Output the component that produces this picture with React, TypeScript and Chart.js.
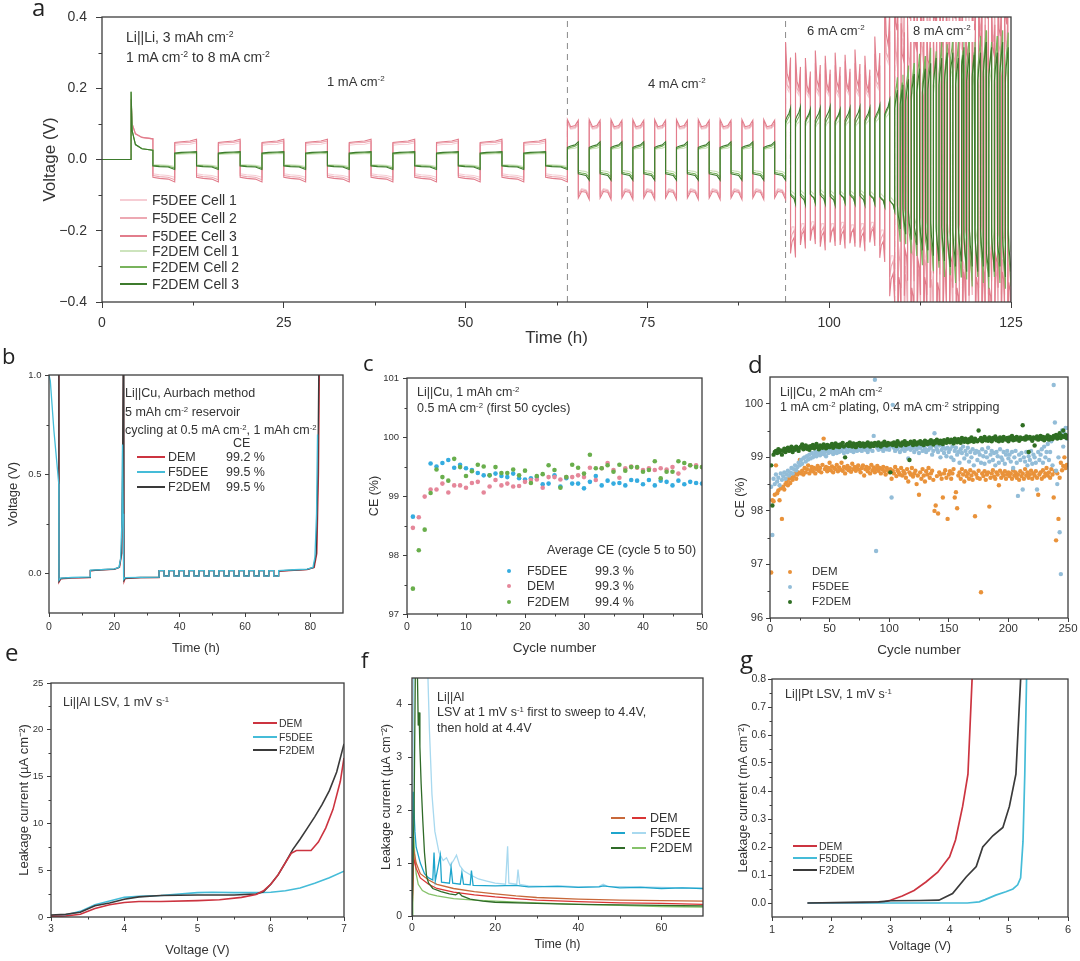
import React, { useEffect, useRef } from "react";
import { Chart, registerables } from "chart.js";

Chart.register(...registerables);

const FONT = '"Liberation Sans", Arimo, Arial, Helvetica, sans-serif';
const LETTER_FONT = '"Open Sans", "Noto Sans", sans-serif';
const INK = "#333333";
const FRAME = "#3d3d3d";

/* ================= panel a : Li||Li rate test ================= */
const aStepStart = [4, 64, 94, 109]; // h, start of 1, 4, 6, 8 mA cm-2 steps
const aStepEnd = [64, 94, 109, 125];
const aCyclesF5DEE = [10, 10, 11, 18];
const aCyclesF2DEM = [10, 10, 11, 21];
const aHalfFrac = [0, 0.3, 0.7, 1]; // sample positions inside each half-cycle
const aDashedTimes = [64, 94, 109];
const aSpikeF5DEE = [[4, 0.17], [4.15, 0.1], [4.6, 0.072], [5.5, 0.062], [7, 0.058]];
const aSpikeF2DEM = [[4, 0.19], [4.15, 0.08], [4.6, 0.042], [5.5, 0.03], [7, 0.026]];
// per step: [plating half [start, 30%, 70%, end], stripping half [...]] (V)
const aF5DEE1 = [
  [[0.04, 0.042, 0.043, 0.047], [-0.04, -0.043, -0.045, -0.05]],
  [[0.1, 0.085, 0.087, 0.098], [-0.095, -0.082, -0.085, -0.1]],
  [[0.25, 0.19, 0.18, 0.22], [-0.2, -0.18, -0.18, -0.21]],
  [[0.38, 0.3, 0.28, 0.36], [-0.38, -0.26, -0.28, -0.36]],
];
const aF5DEE2 = [
  [[0.045, 0.047, 0.048, 0.052], [-0.045, -0.048, -0.05, -0.057]],
  [[0.105, 0.088, 0.09, 0.102], [-0.1, -0.085, -0.088, -0.104]],
  [[0.27, 0.2, 0.19, 0.24], [-0.22, -0.2, -0.19, -0.23]],
  [[0.42, 0.32, 0.3, 0.4], [-0.42, -0.28, -0.3, -0.38]],
];
const aF5DEE3 = [
  [[0.048, 0.05, 0.052, 0.057], [-0.05, -0.053, -0.055, -0.063]],
  [[0.112, 0.092, 0.095, 0.11], [-0.108, -0.09, -0.092, -0.112]],
  [[0.3, 0.22, 0.2, 0.26], [-0.24, -0.21, -0.2, -0.25]],
  [[0.45, 0.35, 0.33, 0.42], [-0.45, -0.3, -0.32, -0.4]],
];
const aF2DEM1 = [
  [[0.014, 0.015, 0.016, 0.017], [-0.014, -0.015, -0.016, -0.02]],
  [[0.028, 0.03, 0.032, 0.036], [-0.03, -0.032, -0.034, -0.04]],
  [[0.09, 0.1, 0.105, 0.115], [-0.085, -0.09, -0.095, -0.1]],
  [[0.2, 0.22, 0.24, 0.26], [-0.18, -0.2, -0.22, -0.24]],
];
const aF2DEM2 = [
  [[0.016, 0.018, 0.019, 0.02], [-0.016, -0.018, -0.019, -0.024]],
  [[0.03, 0.034, 0.037, 0.044], [-0.036, -0.038, -0.04, -0.05]],
  [[0.1, 0.11, 0.12, 0.135], [-0.095, -0.1, -0.105, -0.12]],
  [[0.24, 0.27, 0.3, 0.33], [-0.22, -0.26, -0.29, -0.33]],
];
const aF2DEM3 = [
  [[0.018, 0.02, 0.021, 0.022], [-0.018, -0.02, -0.021, -0.028]],
  [[0.034, 0.038, 0.041, 0.05], [-0.04, -0.042, -0.045, -0.058]],
  [[0.11, 0.12, 0.13, 0.145], [-0.1, -0.105, -0.11, -0.125]],
  [[0.22, 0.25, 0.28, 0.3], [-0.2, -0.24, -0.27, -0.3]],
];
// cycle-by-cycle amplitude factors read for the 6 and 8 mA cm-2 steps
const aScaleF5DEE3_6 = [1.1, 1.0, 0.95, 1.02, 0.97, 1.0, 0.98, 1.03, 0.97, 1.15, 1.6];
const aScaleF5DEE3_8 = [1.1, 0.85, 1.2, 0.95, 1.1, 0.8, 1.15, 1.0, 0.9, 1.2, 1.05, 0.85, 1.1, 1.0, 1.2, 0.9, 1.05, 1.15];
const aScaleF5DEE2_6 = [1.05, 1.0, 0.97, 1.0, 1.0, 0.98, 1.02, 1.0, 0.98, 1.1, 1.5];
const aScaleF5DEE2_8 = [0.95, 1.15, 0.9, 1.1, 1.0, 1.2, 0.85, 1.05, 1.15, 0.9, 1.1, 1.0, 0.95, 1.2, 0.9, 1.1, 1.0, 1.05];
const aScaleF2DEM3_6 = [1.0, 1.02, 0.98, 1.0, 1.03, 0.97, 1.0, 1.02, 1.0, 1.05, 1.15];
const aScaleF2DEM3_8 = [0.65, 0.7, 0.75, 0.8, 0.85, 0.85, 0.9, 0.95, 0.95, 1.0, 1.0, 0.95, 1.05, 1.0, 1.05, 1.0, 1.1, 1.05, 1.0, 1.1, 1.05];
const aScaleF2DEM2_6 = [1.0, 1.0, 1.02, 0.98, 1.0, 1.02, 1.0, 0.98, 1.02, 1.08, 1.2];
const aScaleF2DEM2_8 = [0.7, 0.72, 0.8, 0.82, 0.9, 0.88, 0.95, 0.92, 1.0, 0.98, 1.05, 1.0, 1.02, 1.08, 1.0, 1.05, 1.1, 1.0, 1.05, 1.1, 1.08];
const aTicksX = [0, 25, 50, 75, 100, 125];
const aMinorX = [12.5, 37.5, 62.5, 87.5, 112.5];
const aTicksY = [-0.4, -0.2, 0, 0.2, 0.4];
const aMinorY = [-0.3, -0.1, 0.1, 0.3];

/* ================= panel b : Aurbach ================= */
const bF5DEE = [[0, 1.0], [0.4, 0.97], [1.5, 0.72], [3, 0.45], [3.05, -0.035], [3.6, -0.024], [7, -0.021], [12.6, -0.018], [12.65, 0.016], [16, 0.019], [20, 0.022], [21.4, 0.03], [21.9, 0.07], [22.3, 0.25], [22.5, 0.65], [22.7, 0.3], [22.85, -0.03], [23.3, -0.022], [28, -0.02], [33.7, -0.019]];
const bF5DEEEnd = [[70.3, 0.014], [75, 0.018], [79, 0.021], [80.8, 0.03], [81.4, 0.08], [81.9, 0.3], [82.2, 0.7]];
const bF2DEM = [[3, 1.05], [3.05, -0.04], [3.6, -0.026], [7, -0.022], [12.6, -0.02], [12.65, 0.014], [16, 0.018], [20, 0.021], [21.5, 0.03], [22.2, 0.1], [22.5, 0.5], [22.7, 1.05], [22.9, 1.05], [22.95, -0.035], [23.3, -0.024], [28, -0.021], [33.7, -0.02]];
const bF2DEMEnd = [[70.3, 0.012], [75, 0.016], [79, 0.02], [81, 0.03], [81.8, 0.1], [82.3, 0.5], [82.6, 1.05]];
const bDEM = [[3, 1.05], [3.05, -0.045], [3.6, -0.028], [7, -0.024], [12.6, -0.022], [12.65, 0.012], [16, 0.017], [20, 0.02], [21.6, 0.03], [22.3, 0.1], [22.6, 0.5], [22.8, 1.05], [22.95, 1.05], [23.0, -0.04], [23.3, -0.026], [28, -0.022], [33.7, -0.021]];
const bDEMEnd = [[70.3, 0.01], [75, 0.015], [79, 0.019], [81.2, 0.03], [82, 0.1], [82.5, 0.5], [82.8, 1.05]];
const bSquareEdges = [33.7, 35.2, 36.7, 38.3, 39.8, 41.3, 42.9, 44.4, 45.9, 47.5, 49.0, 50.5, 52.0, 53.6, 55.1, 56.6, 58.2, 59.7, 61.2, 62.8, 64.3, 65.8, 67.3, 68.8, 70.3];
const bSquareLevels = [0.014, -0.014, 0.014, -0.014, 0.014, -0.014, 0.014, -0.014, 0.014, -0.014, 0.014, -0.014, 0.014, -0.014, 0.014, -0.014, 0.014, -0.014, 0.014, -0.014, 0.014, -0.014, 0.014, -0.014];
const bTicksX = [0, 20, 40, 60, 80];
const bMinorX = [10, 30, 50, 70];
const bTicksY = [0, 0.5, 1];
const bMinorY = [0.25, 0.75];

/* ================= panel c : CE first 50 cycles ================= */
const cF5DEE = [98.65, null, null, 99.55, 99.5, 99.56, 99.61, 99.48, 99.53, 99.47, 99.44, 99.39, 99.35, 99.35, 99.38, 99.34, 99.32, 99.38, 99.3, 99.28, 99.3, 99.32, 99.2, 99.21, 99.35, 99.16, 99.3, 99.21, 99.21, 99.13, 99.24, 99.34, 99.18, 99.26, 99.21, 99.22, 99.18, 99.27, 99.26, 99.2, 99.27, 99.18, 99.26, 99.24, 99.18, 99.26, 99.2, 99.24, 99.22, 99.21];
const cDEM = [98.46, 98.64, 98.99, 99.11, 99.11, 99.21, 99.06, 99.18, 99.18, 99.14, 99.22, 99.24, 99.06, 99.16, 99.27, 99.18, 99.21, 99.16, 99.17, 99.24, 99.27, 99.28, 99.14, 99.32, 99.32, 99.28, 99.32, 99.32, 99.35, 99.32, 99.48, 99.27, 99.47, 99.56, 99.44, 99.31, 99.47, 99.5, 99.48, 99.44, 99.47, 99.44, 99.47, 99.45, 99.49, 99.38, 99.47, 99.52, 99.52, 99.49];
const cF2DEM = [97.43, 98.08, 98.43, 99.05, 99.45, 99.32, 99.26, 99.63, 99.49, 99.34, 99.42, 99.53, 99.5, 99.35, 99.49, 99.39, 99.39, 99.45, 99.35, 99.43, 99.22, 99.34, 99.37, 99.52, 99.44, 99.14, 99.32, 99.53, 99.48, 99.38, 99.7, 99.47, 99.47, 99.52, 99.41, 99.53, 99.43, 99.49, 99.49, 99.41, 99.44, 99.59, 99.3, 99.41, 99.41, 99.59, 99.56, 99.52, 99.49, 99.49];
const cTicksX = [0, 10, 20, 30, 40, 50];
const cMinorX = [5, 15, 25, 35, 45];
const cTicksY = [97, 98, 99, 100, 101];
const cMinorY = [97.5, 98.5, 99.5, 100.5];

/* ================= panel d : CE 250 cycles ================= */
const dF2DEM = [
  98.85, 98.1, 99.05, 99.1, 99.12, 99.08, 99.15, 99.1, 99.13, 99.05, 99.12, 99.16, 99.1, 99.14, 99.18, 99.12, 99.15, 99.2, 99.1, 99.17, 99.14, 99.2, 99.16, 99.12, 99.18,
  99.2, 99.24, 99.15, 99.18, 99.22, 99.16, 99.2, 99.14, 99.21, 99.18, 99.23, 99.17, 99.2, 99.25, 99.19, 99.15, 99.22, 99.2, 99.18, 99.24, 99.21, 99.17, 99.23, 99.2, 99.19,
  99.22, 99.25, 99.18, 99.21, 99.26, 99.2, 99.23, 99.19, 99.24, 99.22, 99.27, 99.2, 99.0, 99.23, 99.25, 99.21, 99.28, 99.22, 99.2, 99.26, 99.24, 99.19, 99.25, 99.23, 99.27,
  99.21, 99.24, 99.26, 99.2, 99.25, 99.22, 99.28, 99.23, 99.2, 99.26, 99.24, 99.21, 99.27, 99.25, 99.22, 99.28, 99.24, 99.2, 99.26, 99.23, 99.29, 99.25, 99.22, 99.27, 99.24,
  98.72, 99.26, 99.23, 99.28, 99.25, 99.21, 99.3, 99.26, 99.24, 99.22, 99.28, 99.25, 99.3, 99.23, 99.27, 99.25, 98.95, 99.29, 99.26, 99.23, 99.3, 99.27, 99.24, 99.28, 99.26,
  99.3, 99.25, 99.28, 99.23, 99.31, 99.27, 99.25, 99.29, 99.26, 99.32, 99.28, 99.24, 99.3, 99.27, 99.33, 99.29, 99.26, 99.31, 99.28, 99.25, 99.32, 99.29, 99.27, 99.34, 99.3,
  99.28, 99.33, 99.3, 99.26, 99.35, 99.31, 99.28, 99.34, 99.3, 99.27, 99.36, 99.32, 99.29, 99.35, 99.31, 99.28, 99.34, 99.3, 99.37, 99.33, 99.29, 99.35, 99.32, 99.3, 99.5,
  99.33, 99.36, 99.3, 99.34, 99.38, 99.32, 99.35, 99.31, 99.37, 99.33, 99.3, 99.36, 99.34, 99.39, 99.32, 99.35, 99.3, 99.37, 99.34, 99.31, 99.38, 99.35, 99.33, 99.36, 99.3,
  99.37, 99.34, 99.4, 99.32, 99.36, 99.33, 99.38, 99.35, 99.31, 99.37, 99.34, 99.6, 99.36, 99.33, 99.39, 99.35, 99.1, 99.38, 99.34, 99.31, 99.37, 99.22, 99.35, 99.39, 99.33,
  99.36, 99.4, 99.34, 99.38, 99.32, 99.37, 99.35, 99.41, 99.33, 99.38, 99.36, 99.34, 99.4, 99.37, 99.42, 99.35, 99.38, 99.45, 99.36, 99.4, 99.5, 99.38, 99.42, 99.36, 99.4,
];
const dDEM = [
  96.85, 98.2, 98.18, 98.3, 98.85, 98.33, 98.38, 98.2, 98.42, 97.85, 98.45, 98.4, 98.5, 98.55, 98.48, 98.6, 98.52, 98.62, 98.58, 98.65, 98.7, 98.6, 98.68, 98.72, 98.95,
  98.7, 98.75, 98.68, 98.8, 98.72, 98.78, 98.85, 98.7, 98.76, 98.82, 98.74, 98.8, 98.7, 98.78, 98.84, 98.75, 98.8, 98.72, 98.86, 99.35, 98.78, 98.82, 98.74, 98.8, 98.9,
  98.76, 98.83, 98.72, 98.8, 98.78, 98.86, 98.74, 98.81, 98.77, 98.9, 98.75, 98.82, 98.7, 98.79, 98.84, 98.76, 98.8, 98.73, 98.88, 98.78, 98.82, 98.75, 98.8, 98.85, 98.77,
  98.72, 98.8, 98.85, 98.66, 98.78, 98.82, 98.74, 98.8, 98.7, 98.86, 98.76, 98.81, 98.72, 98.78, 98.84, 98.75, 98.8, 98.7, 98.78, 98.82, 98.74, 98.68, 98.8, 98.76, 98.72,
  98.78, 98.6, 98.75, 98.7, 98.82, 98.65, 98.76, 98.72, 98.68, 98.8, 98.66, 98.74, 98.7, 98.62, 98.78, 98.55, 98.72, 98.68, 98.8, 98.64, 98.7, 98.75, 98.5, 98.66, 98.3,
  98.72, 98.6, 98.78, 98.66, 98.55, 98.74, 98.68, 98.8, 98.62, 98.7, 98.75, 98.58, 98.0, 98.1, 98.65, 97.95, 98.72, 98.68, 98.6, 98.25, 98.7, 98.76, 98.62, 97.85, 98.68,
  98.74, 98.6, 98.7, 98.78, 98.25, 98.35, 98.05, 98.66, 98.72, 98.6, 98.78, 98.68, 98.55, 98.74, 98.65, 98.7, 98.6, 98.76, 98.66, 98.58, 98.72, 97.9, 98.68, 98.62, 98.75,
  98.6, 96.48, 98.7, 98.65, 98.74, 98.58, 98.68, 98.72, 98.08, 98.62, 98.7, 98.76, 98.64, 98.6, 98.72, 98.68, 98.48, 98.75, 98.62, 98.7, 98.66, 98.74, 98.6, 98.68, 98.72,
  98.65, 98.7, 98.6, 98.76, 98.66, 98.72, 98.62, 98.68, 98.58, 98.74, 98.65, 98.7, 98.6, 98.78, 98.66, 98.72, 98.62, 98.68, 98.75, 98.6, 98.7, 98.66, 98.74, 98.62, 98.3,
  98.68, 98.72, 98.6, 98.76, 98.64, 98.7, 98.8, 98.66, 98.72, 98.62, 98.78, 98.68, 98.25, 98.74, 97.45, 98.7, 97.85, 98.62, 98.9, 98.76, 98.84, 99.0, 98.8, 98.86, 98.85,
];
const dF5DEE = [
  98.45, 97.55, 98.6, 98.5, 98.68, 98.55, 98.62, 98.48, 98.7, 98.58, 98.65, 98.72, 98.6, 98.68, 98.75, 98.66, 98.72, 98.8, 98.7, 98.78, 98.85, 98.76, 98.82, 98.9, 98.85,
  98.95, 98.88, 98.98, 99.0, 98.92, 99.02, 98.96, 99.05, 98.98, 99.08, 99.0, 99.04, 99.1, 99.02, 99.06, 99.12, 99.04, 99.08, 99.14, 99.06, 99.1, 99.02, 99.12, 99.08, 99.14,
  99.1, 99.16, 99.06, 99.12, 99.18, 99.08, 99.14, 99.1, 99.2, 99.12, 99.16, 99.08, 99.18, 99.14, 99.1, 99.2, 99.15, 99.12, 99.18, 99.1, 99.16, 99.2, 99.12, 99.17, 99.14,
  99.2, 99.12, 99.17, 99.22, 99.14, 99.18, 99.1, 99.2, 99.15, 99.22, 99.12, 99.4, 100.45, 97.25, 99.18, 99.14, 99.2, 99.16, 99.24, 99.12, 99.18, 99.22, 99.15, 99.2, 99.14,
  99.2, 98.25, 99.98, 99.18, 99.12, 99.22, 99.16, 99.2, 99.1, 99.24, 99.15, 99.18, 99.12, 99.22, 99.16, 98.98, 99.2, 99.14, 99.24, 99.18, 99.1, 99.22, 99.15, 99.2, 99.08,
  99.18, 99.22, 99.12, 99.2, 99.16, 99.1, 99.24, 99.14, 99.2, 99.18, 99.05, 99.12, 99.45, 99.2, 99.15, 99.1, 99.22, 99.0, 99.14, 99.2, 99.08, 99.16, 99.02, 99.18, 99.1,
  99.15, 99.0, 99.2, 98.95, 99.12, 99.18, 99.05, 99.1, 98.9, 99.15, 99.08, 99.2, 98.98, 99.12, 99.05, 99.18, 98.92, 99.1, 99.0, 99.15, 98.85, 99.08, 99.12, 98.95, 99.1,
  99.05, 98.9, 99.15, 99.02, 98.88, 99.1, 99.0, 99.18, 98.92, 99.05, 99.12, 98.95, 99.08, 98.85, 99.1, 99.02, 98.9, 99.15, 99.0, 98.95, 99.1, 98.88, 99.05, 99.12, 98.98,
  99.05, 98.92, 99.1, 98.8, 99.0, 99.12, 98.9, 98.28, 99.05, 98.95, 99.08, 98.4, 99.0, 98.92, 99.1, 98.85, 99.02, 98.95, 99.12, 98.88, 99.05, 99.0, 98.9, 98.4, 99.1,
  98.95, 99.05, 99.15, 98.9, 99.2, 99.0, 99.1, 99.25, 98.95, 99.1, 99.3, 98.85, 100.35, 99.65, 98.75, 98.5, 99.0, 97.6, 96.82, 99.5, 99.2, 99.45, 99.55, 99.35, 99.55,
];
const dTicksX = [0, 50, 100, 150, 200, 250];
const dMinorX = [25, 75, 125, 175, 225];
const dTicksY = [96, 97, 98, 99, 100];
const dMinorY = [96.5, 97.5, 98.5, 99.5];

/* ================= panel e : Li||Al LSV ================= */
const eDEM = [[3, 0.05], [3.2, 0.1], [3.4, 0.3], [3.6, 0.9], [3.8, 1.3], [4.0, 1.55], [4.2, 1.65], [4.5, 1.65], [5.0, 1.75], [5.3, 1.85], [5.6, 2.1], [5.8, 2.4], [5.9, 2.8], [6.0, 3.5], [6.1, 4.5], [6.2, 5.8], [6.28, 6.8], [6.35, 7.1], [6.45, 7.1], [6.55, 7.1], [6.65, 8.0], [6.75, 9.5], [6.85, 11.5], [6.95, 14.5], [7, 17]];
const eF5DEE = [[3, 0.1], [3.2, 0.2], [3.4, 0.6], [3.6, 1.3], [3.8, 1.7], [4.0, 2.1], [4.2, 2.2], [4.5, 2.3], [5.0, 2.6], [5.2, 2.65], [5.5, 2.6], [5.8, 2.6], [6.0, 2.65], [6.2, 2.8], [6.4, 3.1], [6.6, 3.6], [6.8, 4.2], [7, 4.9]];
const eF2DEM = [[3, 0.2], [3.2, 0.3], [3.4, 0.5], [3.6, 1.2], [3.8, 1.5], [4.0, 1.9], [4.2, 2.15], [4.5, 2.3], [5.0, 2.35], [5.5, 2.35], [5.8, 2.45], [5.9, 2.7], [6.0, 3.5], [6.1, 4.5], [6.2, 5.8], [6.3, 7.2], [6.4, 8.3], [6.5, 9.5], [6.6, 10.7], [6.7, 12], [6.8, 13.5], [6.9, 15.5], [7, 18.5]];
const eTicksX = [3, 4, 5, 6, 7];
const eMinorX = [3.5, 4.5, 5.5, 6.5];
const eTicksY = [0, 5, 10, 15, 20, 25];
const eMinorY = [2.5, 7.5, 12.5, 17.5, 22.5];

/* ================= panel f : Li||Al hold ================= */
const fDEM1 = [[0, 0], [0.3, 1.3], [1, 1.0], [2, 0.8], [4, 0.68], [6, 0.6], [10, 0.52], [15, 0.46], [20, 0.42], [25, 0.38], [30, 0.35], [40, 0.32], [50, 0.3], [60, 0.29], [70, 0.28]];
const fDEM2 = [[0, 0], [0.4, 1.1], [1, 0.9], [2, 0.72], [4, 0.6], [6, 0.52], [10, 0.45], [15, 0.4], [20, 0.36], [25, 0.33], [30, 0.3], [40, 0.27], [50, 0.25], [60, 0.24], [70, 0.22]];
const fF5DEE1 = [[0, 0], [0.3, 2.35], [0.7, 1.6], [1, 1.3], [2, 1.0], [3, 0.8], [4, 0.72], [5, 0.68], [5.3, 1.2], [5.6, 0.66], [6.8, 1.15], [7.1, 0.64], [9, 0.62], [9.4, 0.92], [9.8, 0.62], [11.6, 0.6], [12, 0.82], [12.4, 0.6], [14, 0.59], [14.3, 0.86], [14.7, 0.58], [20, 0.57], [25, 0.58], [28, 0.55], [35, 0.56], [40, 0.54], [45, 0.55], [46, 0.57], [50, 0.53], [55, 0.54], [60, 0.52], [65, 0.53], [70, 0.52]];
const fF5DEE2 = [[0, 0], [0.4, 4.6], [3.8, 4.6], [4.2, 3.5], [4.8, 2.3], [5.5, 1.6], [6.5, 1.2], [7.5, 1.05], [8.3, 1.1], [9.2, 0.95], [10, 1.05], [10.7, 1.15], [11.5, 0.95], [12.5, 0.85], [14, 0.78], [16, 0.7], [18, 0.66], [20, 0.62], [22.5, 0.6], [23, 1.32], [23.3, 0.62], [25.2, 0.6], [25.5, 0.88], [25.9, 0.6], [28, 0.57], [32, 0.56], [36, 0.57], [40, 0.55], [45, 0.56], [46, 0.6], [47, 0.56], [55, 0.55], [60, 0.54], [65, 0.53], [70, 0.52]];
const fF2DEM1 = [[0, 0], [0.5, 2.0], [0.8, 4.6], [1.3, 4.6], [1.5, 3.6], [1.7, 3.85], [1.9, 3.2], [2.2, 2.5], [2.6, 1.8], [3, 1.2], [3.5, 0.75], [4, 0.62], [5, 0.52], [7, 0.46], [9, 0.42], [10.5, 0.4], [11.3, 0.44], [12, 0.38], [14, 0.32], [17, 0.28], [20, 0.26], [30, 0.24], [40, 0.22], [50, 0.21], [60, 0.2], [70, 0.19]];
const fF2DEM2 = [[0, 0], [0.2, 0.2], [0.4, 1.5], [0.7, 1.1], [1, 0.8], [1.5, 0.6], [2.5, 0.48], [4, 0.42], [6, 0.38], [10, 0.33], [15, 0.3], [20, 0.28], [30, 0.25], [40, 0.22], [50, 0.2], [60, 0.18], [70, 0.17]];
const fTicksX = [0, 20, 40, 60];
const fMinorX = [10, 30, 50];
const fTicksY = [0, 1, 2, 3, 4];
const fMinorY = [0.5, 1.5, 2.5, 3.5];

/* ================= panel g : Li||Pt LSV ================= */
const gDEM = [[1.6, 0], [2.5, 0], [2.9, 0.004], [3.0, 0.01], [3.2, 0.025], [3.4, 0.045], [3.6, 0.075], [3.8, 0.11], [4.0, 0.165], [4.1, 0.225], [4.22, 0.345], [4.31, 0.46], [4.38, 0.8]];
const gF5DEE = [[1.6, 0], [4.3, 0], [4.5, 0.004], [4.6, 0.012], [4.78, 0.028], [4.95, 0.04], [5.07, 0.05], [5.15, 0.065], [5.2, 0.09], [5.24, 0.22], [5.27, 0.46], [5.3, 0.8]];
const gF2DEM = [[1.6, 0], [2.8, 0.004], [3.0, 0.008], [3.5, 0.009], [3.82, 0.01], [4.05, 0.034], [4.28, 0.093], [4.45, 0.13], [4.56, 0.2], [4.73, 0.24], [4.9, 0.27], [5.01, 0.345], [5.12, 0.46], [5.2, 0.8]];
const gTicksX = [1, 2, 3, 4, 5, 6];
const gMinorX = [1.5, 2.5, 3.5, 4.5, 5.5];
const gTicksY = [0, 0.1, 0.2, 0.3, 0.4, 0.5, 0.6, 0.7, 0.8];
const gMinorY = [0.05, 0.15, 0.25, 0.35, 0.45, 0.55, 0.65, 0.75];

/* ================= colours ================= */
const C = {
  f5a: "#f6cdd4", f5b: "#eda9b3", f5c: "#e27d8c",
  f2a: "#cde4bd", f2b: "#78b35c", f2c: "#3d7b2d",
  red: "#cc3440", cyan: "#45bcd8", dark: "#3a3a3a",
  cBlue: "#35ace0", cPink: "#e5879a", cGreen: "#69ae4c",
  dOrange: "#e9923a", dBlue: "#93bdd8", dGreen: "#2f6e23",
  fDEM1: "#c8683a", fDEM2: "#d93535", fF5a: "#1ea5cc", fF5b: "#a8d9ef", fF2a: "#2f6b28", fF2b: "#86c26a",
};

/* ================= helpers ================= */
const pairs = (arr: number[][]) => arr.map(([x, y]) => ({ x, y }));

function buildA(spike: number[][], prof: number[][][], cycles: number[], scales: (number[] | null)[]) {
  const pts: { x: number; y: number }[] = [{ x: 0, y: 0 }, { x: aStepStart[0], y: 0 }];
  for (let s = 0; s < aStepStart.length; s++) {
    const half = (aStepEnd[s] - aStepStart[s]) / (2 * cycles[s]);
    for (let c = 0; c < cycles[s]; c++) {
      const sc = scales[s];
      const k = sc ? sc[c] : 1;
      for (let h = 0; h < 2; h++) {
        const t0 = aStepStart[s] + (2 * c + h) * half;
        if (s === 0 && c === 0 && h === 0) {
          spike.forEach(([x, y]) => pts.push({ x, y }));
          continue;
        }
        prof[s][h].forEach((v, i) => pts.push({ x: t0 + aHalfFrac[i] * half, y: v * k }));
      }
    }
  }
  return pts;
}

function buildB(head: number[][], tail: number[][], scale: number) {
  const pts = pairs(head);
  for (let i = 0; i < bSquareLevels.length; i++) {
    pts.push({ x: bSquareEdges[i], y: bSquareLevels[i] * scale });
    pts.push({ x: bSquareEdges[i + 1], y: bSquareLevels[i] * scale });
  }
  return pts.concat(pairs(tail));
}

const series = (vals: (number | null)[]) => vals.map((y, i) => ({ x: i + 1, y }));

function line(data: any[], color: string, width: number, order: number, extra: any = {}) {
  return { data, borderColor: color, backgroundColor: color, borderWidth: width, pointRadius: 0, tension: 0, order, ...extra };
}
function dots(data: any[], color: string, r: number, order: number) {
  return { data, borderColor: color, backgroundColor: color, pointRadius: r, pointBorderWidth: 0, showLine: false, order };
}

interface AxisSpec {
  min: number; max: number; ticks: number[]; tickSize: number; tickLen: number; tickPad: number;
  title: string; titleSize: number; titlePad: number; fmt: (v: number) => string;
}

function mkAxis(pos: "x" | "y", s: AxisSpec, fit: number) {
  return {
    type: "linear",
    position: pos === "x" ? "bottom" : "left",
    min: s.min,
    max: s.max,
    afterBuildTicks: (sc: any) => { sc.ticks = s.ticks.map((v) => ({ value: v })); },
    afterFit: (sc: any) => {
      if (pos === "x") sc.height = fit; else sc.width = fit;
      sc.paddingLeft = 0; sc.paddingRight = 0; sc.paddingTop = 0; sc.paddingBottom = 0;
    },
    grid: { display: true, drawOnChartArea: false, drawTicks: true, tickLength: s.tickLen, tickColor: FRAME, tickWidth: 1 },
    border: { display: false },
    ticks: {
      autoSkip: false, maxRotation: 0, minRotation: 0, padding: s.tickPad, color: INK,
      font: { family: FONT, size: s.tickSize },
      callback: (v: any) => s.fmt(Number(v)),
    },
    title: {
      display: true, text: s.title, color: INK,
      font: { family: FONT, size: s.titleSize },
      padding: pos === "x" ? { top: 0, bottom: s.titlePad } : { top: s.titlePad, bottom: 0 },
    },
  };
}

function framePlugin(minorX: number[], minorY: number[], minorLen: number) {
  return {
    id: "frameAndMinor",
    afterDatasetsDraw(chart: any) {
      const { ctx, chartArea: a, scales } = chart;
      ctx.save();
      ctx.strokeStyle = FRAME;
      ctx.lineWidth = 1.3;
      ctx.strokeRect(a.left, a.top, a.right - a.left, a.bottom - a.top);
      ctx.lineWidth = 1;
      ctx.beginPath();
      minorX.forEach((v) => {
        const px = Math.round(scales.x.getPixelForValue(v)) + 0.5;
        ctx.moveTo(px, a.bottom);
        ctx.lineTo(px, a.bottom + minorLen);
      });
      minorY.forEach((v) => {
        const py = Math.round(scales.y.getPixelForValue(v)) + 0.5;
        ctx.moveTo(a.left, py);
        ctx.lineTo(a.left - minorLen, py);
      });
      ctx.stroke();
      ctx.restore();
    },
  };
}

interface PanelSpec {
  type: string; datasets: any[];
  cx: number; cy: number; cw: number; ch: number;
  L: number; T: number; R: number; B: number;
  x: AxisSpec; y: AxisSpec; minorX: number[]; minorY: number[]; minorLen: number;
}

function makeConfig(p: PanelSpec): any {
  return {
    type: p.type,
    data: { datasets: p.datasets },
    options: {
      responsive: false,
      maintainAspectRatio: false,
      animation: false,
      devicePixelRatio: 1,
      events: [],
      layout: { padding: { left: 0, top: p.T - p.cy, right: p.cx + p.cw - p.R, bottom: 0 } },
      plugins: { legend: { display: false }, tooltip: { enabled: false }, title: { display: false } },
      scales: { x: mkAxis("x", p.x, p.cy + p.ch - p.B), y: mkAxis("y", p.y, p.L - p.cx) },
    },
    plugins: [framePlugin(p.minorX, p.minorY, p.minorLen)],
  };
}

function ChartCanvas({ spec }: { spec: () => PanelSpec }) {
  const ref = useRef<HTMLCanvasElement | null>(null);
  const s = spec();
  useEffect(() => {
    const chart = new Chart(ref.current as HTMLCanvasElement, makeConfig(spec()));
    return () => chart.destroy();
  }, []);
  return (
    <div style={{ position: "absolute", left: s.cx, top: s.cy, width: s.cw, height: s.ch }}>
      <canvas ref={ref} width={s.cw} height={s.ch} style={{ display: "block", width: s.cw, height: s.ch }} />
    </div>
  );
}

const fmt1 = (v: number) => (v < 0 ? "\u2212" + Math.abs(v).toFixed(1) : v.toFixed(1));
const fmt0 = (v: number) => String(v);

/* ================= panel specs ================= */
const specA = (): PanelSpec => ({
  type: "line",
  datasets: [
    ...aDashedTimes.map((t) => line([{ x: t, y: -0.4 }, { x: t, y: 0.4 }], "#8a8a8a", 1, 9, { borderDash: [6, 5] })),
    line(buildA(aSpikeF5DEE, aF5DEE1, aCyclesF5DEE, [null, null, aScaleF5DEE2_6, aScaleF5DEE2_8]), C.f5a, 1.1, 5),
    line(buildA(aSpikeF5DEE, aF5DEE2, aCyclesF5DEE, [null, null, aScaleF5DEE2_6, aScaleF5DEE2_8]), C.f5b, 1.1, 4),
    line(buildA(aSpikeF5DEE, aF5DEE3, aCyclesF5DEE, [null, null, aScaleF5DEE3_6, aScaleF5DEE3_8]), C.f5c, 1.1, 3),
    line(buildA(aSpikeF2DEM, aF2DEM1, aCyclesF2DEM, [null, null, aScaleF2DEM2_6, aScaleF2DEM2_8]), C.f2a, 1.1, 2),
    line(buildA(aSpikeF2DEM, aF2DEM2, aCyclesF2DEM, [null, null, aScaleF2DEM2_6, aScaleF2DEM2_8]), C.f2b, 1.1, 1),
    line(buildA(aSpikeF2DEM, aF2DEM3, aCyclesF2DEM, [null, null, aScaleF2DEM3_6, aScaleF2DEM3_8]), C.f2c, 1.1, 0),
  ],
  cx: 0, cy: 0, cw: 1080, ch: 355, L: 102, T: 17, R: 1011, B: 302,
  x: { min: 0, max: 125, ticks: aTicksX, tickSize: 14, tickLen: 6, tickPad: 6.6, title: "Time (h)", titleSize: 17, titlePad: 6.8, fmt: fmt0 },
  y: { min: -0.4, max: 0.4, ticks: aTicksY, tickSize: 14, tickLen: 6, tickPad: 9, title: "Voltage (V)", titleSize: 17, titlePad: 39.8, fmt: fmt1 },
  minorX: aMinorX, minorY: aMinorY, minorLen: 3.5,
});

const specB = (): PanelSpec => ({
  type: "line",
  datasets: [
    line(buildB(bDEM, bDEMEnd, 1), C.red, 1.3, 2),
    line(buildB(bF2DEM, bF2DEMEnd, 0.95), C.dark, 1.3, 1),
    line(buildB(bF5DEE, bF5DEEEnd, 1), C.cyan, 1.3, 0),
  ],
  cx: 0, cy: 360, cw: 356, ch: 300, L: 49, T: 375, R: 343, B: 613,
  x: { min: 0, max: 90, ticks: bTicksX, tickSize: 10.5, tickLen: 4, tickPad: 3.7, title: "Time (h)", titleSize: 13, titlePad: 4.2, fmt: fmt0 },
  y: { min: -0.2, max: 1.0, ticks: bTicksY, tickSize: 9.5, tickLen: 4, tickPad: 3.5, title: "Voltage (V)", titleSize: 13, titlePad: 5.2, fmt: fmt1 },
  minorX: bMinorX, minorY: bMinorY, minorLen: 2.5,
});

const specC = (): PanelSpec => ({
  type: "scatter",
  datasets: [
    dots(series(cF5DEE), C.cBlue, 2.3, 2),
    dots(series(cDEM), C.cPink, 2.3, 1),
    dots(series(cF2DEM), C.cGreen, 2.3, 0),
  ],
  cx: 358, cy: 360, cw: 358, ch: 300, L: 407, T: 378, R: 702, B: 614,
  x: { min: 0, max: 50, ticks: cTicksX, tickSize: 10.5, tickLen: 4, tickPad: 2.7, title: "Cycle number", titleSize: 13.5, titlePad: 3.9, fmt: fmt0 },
  y: { min: 97, max: 101, ticks: cTicksY, tickSize: 9.5, tickLen: 4, tickPad: 4, title: "CE (%)", titleSize: 12.5, titlePad: 9.5, fmt: fmt0 },
  minorX: cMinorX, minorY: cMinorY, minorLen: 2.5,
});

const specD = (): PanelSpec => ({
  type: "scatter",
  datasets: [
    dots(series(dDEM), C.dOrange, 2.2, 2),
    dots(series(dF5DEE), C.dBlue, 2.2, 1),
    dots(series(dF2DEM), C.dGreen, 2.2, 0),
  ],
  cx: 716, cy: 360, cw: 364, ch: 300, L: 770, T: 377, R: 1068, B: 618,
  x: { min: 0, max: 250, ticks: dTicksX, tickSize: 11.5, tickLen: 4, tickPad: 0, title: "Cycle number", titleSize: 13.5, titlePad: 1.9, fmt: fmt0 },
  y: { min: 96, max: 100.5, ticks: dTicksY, tickSize: 11, tickLen: 4, tickPad: 3, title: "CE (%)", titleSize: 12.5, titlePad: 17, fmt: fmt0 },
  minorX: dMinorX, minorY: dMinorY, minorLen: 2.5,
});

const specE = (): PanelSpec => ({
  type: "line",
  datasets: [
    line(pairs(eF5DEE), C.cyan, 1.6, 2),
    line(pairs(eF2DEM), C.dark, 1.6, 1),
    line(pairs(eDEM), C.red, 1.6, 0),
  ],
  cx: 0, cy: 665, cw: 356, ch: 296, L: 51, T: 683, R: 344, B: 917,
  x: { min: 3, max: 7, ticks: eTicksX, tickSize: 10, tickLen: 4, tickPad: 2, title: "Voltage (V)", titleSize: 13, titlePad: 3.2, fmt: fmt0 },
  y: { min: 0, max: 25, ticks: eTicksY, tickSize: 9.5, tickLen: 4, tickPad: 3.7, title: "Leakage current (\u00b5A cm\u207b\u00b2)", titleSize: 13, titlePad: 16.5, fmt: fmt0 },
  minorX: eMinorX, minorY: eMinorY, minorLen: 2.5,
});

const specF = (): PanelSpec => ({
  type: "line",
  datasets: [
    line(pairs(fF5DEE2), C.fF5b, 1.3, 5),
    line(pairs(fF2DEM2), C.fF2b, 1.3, 4),
    line(pairs(fDEM1), C.fDEM1, 1.3, 3),
    line(pairs(fDEM2), C.fDEM2, 1.3, 2),
    line(pairs(fF5DEE1), C.fF5a, 1.3, 1),
    line(pairs(fF2DEM1), C.fF2a, 1.3, 0),
  ],
  cx: 358, cy: 665, cw: 358, ch: 296, L: 412, T: 678, R: 703, B: 916,
  x: { min: 0, max: 70, ticks: fTicksX, tickSize: 10.5, tickLen: 4, tickPad: 1.7, title: "Time (h)", titleSize: 12.5, titlePad: 8.5, fmt: fmt0 },
  y: { min: 0, max: 4.5, ticks: fTicksY, tickSize: 10.5, tickLen: 4, tickPad: 6, title: "Leakage current (\u00b5A cm\u207b\u00b2)", titleSize: 12.5, titlePad: 21.5, fmt: fmt0 },
  minorX: fMinorX, minorY: fMinorY, minorLen: 2.5,
});

const specG = (): PanelSpec => ({
  type: "line",
  datasets: [
    line(pairs(gDEM), C.red, 1.7, 2),
    line(pairs(gF5DEE), C.cyan, 1.7, 1),
    line(pairs(gF2DEM), C.dark, 1.7, 0),
  ],
  cx: 716, cy: 665, cw: 364, ch: 296, L: 772, T: 679, R: 1068, B: 917,
  x: { min: 1, max: 6, ticks: gTicksX, tickSize: 11, tickLen: 4, tickPad: 2.4, title: "Voltage (V)", titleSize: 12.5, titlePad: 6.5, fmt: fmt0 },
  y: { min: -0.05, max: 0.8, ticks: gTicksY, tickSize: 10.5, tickLen: 4, tickPad: 2, title: "Leakage current (mA cm\u207b\u00b2)", titleSize: 12.5, titlePad: 20.5, fmt: fmt1 },
  minorX: gMinorX, minorY: gMinorY, minorLen: 2.5,
});

/* ================= html overlays ================= */
const Sup = ({ children }: { children: any }) => (
  <span style={{ fontSize: "0.62em", position: "relative", top: "-0.55em" }}>{children}</span>
);

function T({ x, y, s, children, bg }: { x: number; y: number; s: number; children: any; bg?: boolean }) {
  return (
    <div
      style={{
        position: "absolute", left: x - (bg ? 3 : 0), top: y - 0.49 * s - (bg ? 3 : 0),
        fontSize: s, lineHeight: `${s}px`, fontFamily: FONT, color: INK, whiteSpace: "nowrap",
        background: bg ? "#ffffff" : "transparent", padding: bg ? "3px 3px" : 0,
      }}
    >
      {children}
    </div>
  );
}

const Swatch = ({ x1, x2, y, color, w = 1.6 }: { x1: number; x2: number; y: number; color: string; w?: number }) => (
  <div style={{ position: "absolute", left: x1, top: y - w / 2, width: x2 - x1, height: w, background: color }} />
);
const Dot = ({ x, y, r, color }: { x: number; y: number; r: number; color: string }) => (
  <div style={{ position: "absolute", left: x - r, top: y - r, width: 2 * r, height: 2 * r, borderRadius: "50%", background: color }} />
);
const Letter = ({ x, top, s, ch }: { x: number; top: number; s: number; ch: string }) => (
  <div style={{ position: "absolute", left: x, top, fontSize: s, lineHeight: `${s}px`, fontFamily: LETTER_FONT, color: "#222" }}>{ch}</div>
);

const aLegend = [
  { name: "F5DEE Cell 1", color: C.f5a, y: 200 },
  { name: "F5DEE Cell 2", color: C.f5b, y: 218 },
  { name: "F5DEE Cell 3", color: C.f5c, y: 236 },
  { name: "F2DEM Cell 1", color: C.f2a, y: 251 },
  { name: "F2DEM Cell 2", color: C.f2b, y: 267 },
  { name: "F2DEM Cell 3", color: C.f2c, y: 284 },
];
const bLegend = [
  { name: "DEM", color: C.red, ce: "99.2 %", y: 457 },
  { name: "F5DEE", color: C.cyan, ce: "99.5 %", y: 472 },
  { name: "F2DEM", color: C.dark, ce: "99.5 %", y: 487 },
];
const cLegend = [
  { name: "F5DEE", color: C.cBlue, ce: "99.3 %", y: 571 },
  { name: "DEM", color: C.cPink, ce: "99.3 %", y: 586 },
  { name: "F2DEM", color: C.cGreen, ce: "99.4 %", y: 602 },
];
const dLegend = [
  { name: "DEM", color: C.dOrange, y: 572 },
  { name: "F5DEE", color: C.dBlue, y: 587 },
  { name: "F2DEM", color: C.dGreen, y: 602 },
];
const eLegend = [
  { name: "DEM", color: C.red, y: 723 },
  { name: "F5DEE", color: C.cyan, y: 737 },
  { name: "F2DEM", color: C.dark, y: 750 },
];
const fLegend = [
  { name: "DEM", c1: C.fDEM1, c2: C.fDEM2, y: 818 },
  { name: "F5DEE", c1: C.fF5a, c2: C.fF5b, y: 833 },
  { name: "F2DEM", c1: C.fF2a, c2: C.fF2b, y: 848 },
];
const gLegend = [
  { name: "DEM", color: C.red, y: 846 },
  { name: "F5DEE", color: C.cyan, y: 858 },
  { name: "F2DEM", color: C.dark, y: 870 },
];

export default function App() {
  return (
    <div style={{ position: "absolute", left: 0, top: 0, width: 1080, height: 961, background: "#ffffff", overflow: "hidden" }}>
      <ChartCanvas spec={specA} />
      <ChartCanvas spec={specB} />
      <ChartCanvas spec={specC} />
      <ChartCanvas spec={specD} />
      <ChartCanvas spec={specE} />
      <ChartCanvas spec={specF} />
      <ChartCanvas spec={specG} />

      {/* panel letters */}
      <Letter x={32} top={-5} s={24} ch="a" />
      <Letter x={2} top={344} s={22} ch="b" />
      <Letter x={363} top={351} s={22} ch="c" />
      <Letter x={748} top={352} s={24} ch="d" />
      <Letter x={5} top={640} s={24} ch="e" />
      <Letter x={361} top={648} s={22} ch="f" />
      <Letter x={740} top={647} s={24} ch="g" />

      {/* panel a */}
      <T x={126} y={37} s={14}>Li||Li, 3 mAh cm<Sup>-2</Sup></T>
      <T x={126} y={57} s={14}>1 mA cm<Sup>-2</Sup> to 8 mA cm<Sup>-2</Sup></T>
      <T x={327} y={81} s={13}>1 mA cm<Sup>-2</Sup></T>
      <T x={648} y={83} s={13}>4 mA cm<Sup>-2</Sup></T>
      <T x={807} y={30} s={13}>6 mA cm<Sup>-2</Sup></T>
      <T x={913} y={30} s={13} bg>8 mA cm<Sup>-2</Sup></T>
      {aLegend.map((l) => (
        <React.Fragment key={l.name}>
          <Swatch x1={120} x2={147} y={l.y} color={l.color} w={1.4} />
          <T x={152} y={l.y} s={14}>{l.name}</T>
        </React.Fragment>
      ))}

      {/* panel b */}
      <T x={125} y={393} s={12.5}>Li||Cu, Aurbach method</T>
      <T x={125} y={412} s={12.5}>5 mAh cm<Sup>-2</Sup> reservoir</T>
      <T x={125} y={430} s={12.5}>cycling at 0.5 mA cm<Sup>-2</Sup>, 1 mAh cm<Sup>-2</Sup></T>
      <T x={233} y={443} s={12.5}>CE</T>
      {bLegend.map((l) => (
        <React.Fragment key={l.name}>
          <Swatch x1={137} x2={165} y={l.y} color={l.color} w={1.5} />
          <T x={168} y={l.y} s={12.5}>{l.name}</T>
          <T x={226} y={l.y} s={12.5}>{l.ce}</T>
        </React.Fragment>
      ))}

      {/* panel c */}
      <T x={417} y={392} s={12.5}>Li||Cu, 1 mAh cm<Sup>-2</Sup></T>
      <T x={417} y={408} s={12.5}>0.5 mA cm<Sup>-2</Sup> (first 50 cycles)</T>
      <T x={547} y={550} s={12.5}>Average CE (cycle 5 to 50)</T>
      {cLegend.map((l) => (
        <React.Fragment key={l.name}>
          <Dot x={509} y={l.y} r={2.3} color={l.color} />
          <T x={527} y={l.y} s={12.5}>{l.name}</T>
          <T x={595} y={l.y} s={12.5}>{l.ce}</T>
        </React.Fragment>
      ))}

      {/* panel d */}
      <T x={780} y={392} s={12.5}>Li||Cu, 2 mAh cm<Sup>-2</Sup></T>
      <T x={780} y={407} s={12.5}>1 mA cm<Sup>-2</Sup> plating, 0.4 mA cm<Sup>-2</Sup> stripping</T>
      {dLegend.map((l) => (
        <React.Fragment key={l.name}>
          <Dot x={790} y={l.y} r={2.2} color={l.color} />
          <T x={812} y={l.y} s={11.5}>{l.name}</T>
        </React.Fragment>
      ))}

      {/* panel e */}
      <T x={63} y={702} s={12.5}>Li||Al LSV, 1 mV s<Sup>-1</Sup></T>
      {eLegend.map((l) => (
        <React.Fragment key={l.name}>
          <Swatch x1={253} x2={277} y={l.y} color={l.color} w={1.5} />
          <T x={279} y={l.y} s={10.5}>{l.name}</T>
        </React.Fragment>
      ))}

      {/* panel f */}
      <T x={437} y={697} s={12.5}>Li||Al</T>
      <T x={437} y={712} s={12.5}>LSV at 1 mV s<Sup>-1</Sup> first to sweep to 4.4V,</T>
      <T x={437} y={728} s={12.5}>then hold at 4.4V</T>
      {fLegend.map((l) => (
        <React.Fragment key={l.name}>
          <Swatch x1={611} x2={625} y={l.y} color={l.c1} w={2} />
          <Swatch x1={632} x2={646} y={l.y} color={l.c2} w={2} />
          <T x={650} y={l.y} s={12.5}>{l.name}</T>
        </React.Fragment>
      ))}

      {/* panel g */}
      <T x={785} y={694} s={12.5}>Li||Pt LSV, 1 mV s<Sup>-1</Sup></T>
      {gLegend.map((l) => (
        <React.Fragment key={l.name}>
          <Swatch x1={793} x2={817} y={l.y} color={l.color} w={1.5} />
          <T x={819} y={l.y} s={10.5}>{l.name}</T>
        </React.Fragment>
      ))}
    </div>
  );
}
